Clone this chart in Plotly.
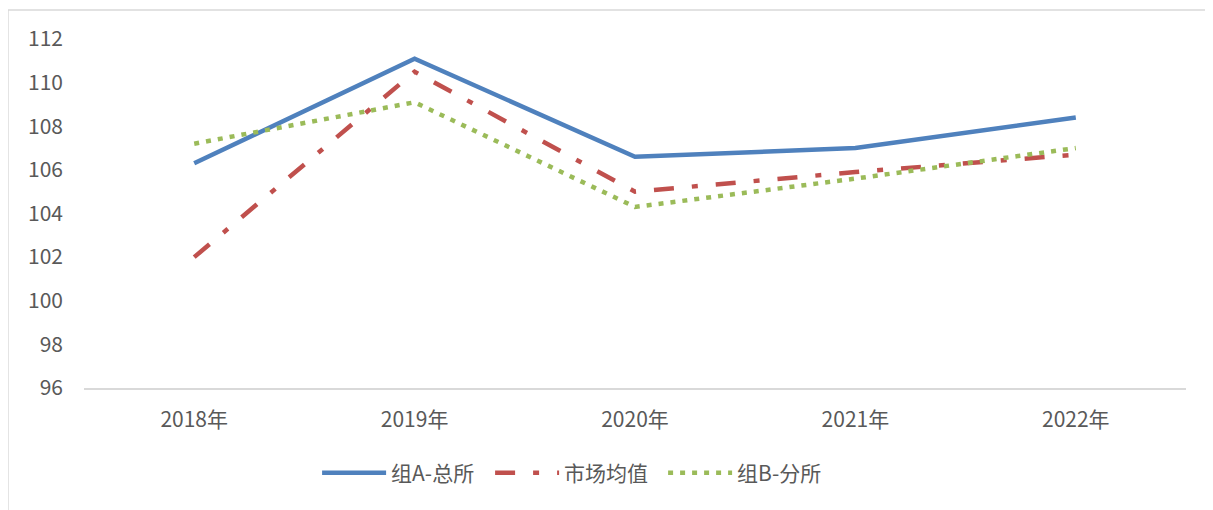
import plotly.graph_objects as go

years = ["2018年", "2019年", "2020年", "2021年", "2022年"]
group_a = [106.3, 111.1, 106.6, 107.0, 108.4]
market = [102.0, 110.5, 105.0, 105.9, 106.7]
group_b = [107.2, 109.1, 104.3, 105.6, 107.0]
y_ticks = [96, 98, 100, 102, 104, 106, 108, 110, 112]

FONT = "Noto Sans CJK SC, Noto Sans, sans-serif"

fig = go.Figure()
fig.add_trace(go.Scatter(x=years, y=group_a, name="组A-总所", mode="lines",
                         line=dict(color="#4F81BD", width=4.5)))
fig.add_trace(go.Scatter(x=years, y=market, name="市场均值", mode="lines",
                         line=dict(color="#C0504D", width=4.5, dash="20px,18px,6px,18px")))
fig.add_trace(go.Scatter(x=years, y=group_b, name="组B-分所", mode="lines",
                         line=dict(color="#9BBB59", width=4.5, dash="5px,7px")))

# page body has an 8px margin, so the figure is drawn 8px smaller
fig.update_layout(
    width=1205, height=502,
    margin=dict(l=76, r=27, t=31, b=121.5),
    paper_bgcolor="white", plot_bgcolor="white",
    font=dict(family=FONT, size=21, color="#595959"),
    showlegend=True,
    legend=dict(orientation="h", x=0.447, xanchor="center", y=-0.185, yanchor="top",
                itemwidth=64, entrywidth=94, entrywidthmode="pixels",
                font=dict(size=21, color="#595959")),
    xaxis=dict(range=[-0.5, 4.5], showgrid=False, zeroline=False, showline=True,
               linecolor="#D9D9D9", linewidth=1.5, ticks="", ticklabelstandoff=12,
               fixedrange=True),
    yaxis=dict(range=[96, 112], tickvals=y_ticks, showgrid=False, zeroline=False,
               showline=False, ticks="", ticklabelstandoff=20, fixedrange=True),
    shapes=[dict(type="rect", xref="paper", yref="paper",
                 x0=-0.069, x1=1.2, y0=-1.0, y1=1.083,
                 line=dict(color="#D9D9D9", width=1.5), layer="below")],
)

fig.write_html("out.html")
